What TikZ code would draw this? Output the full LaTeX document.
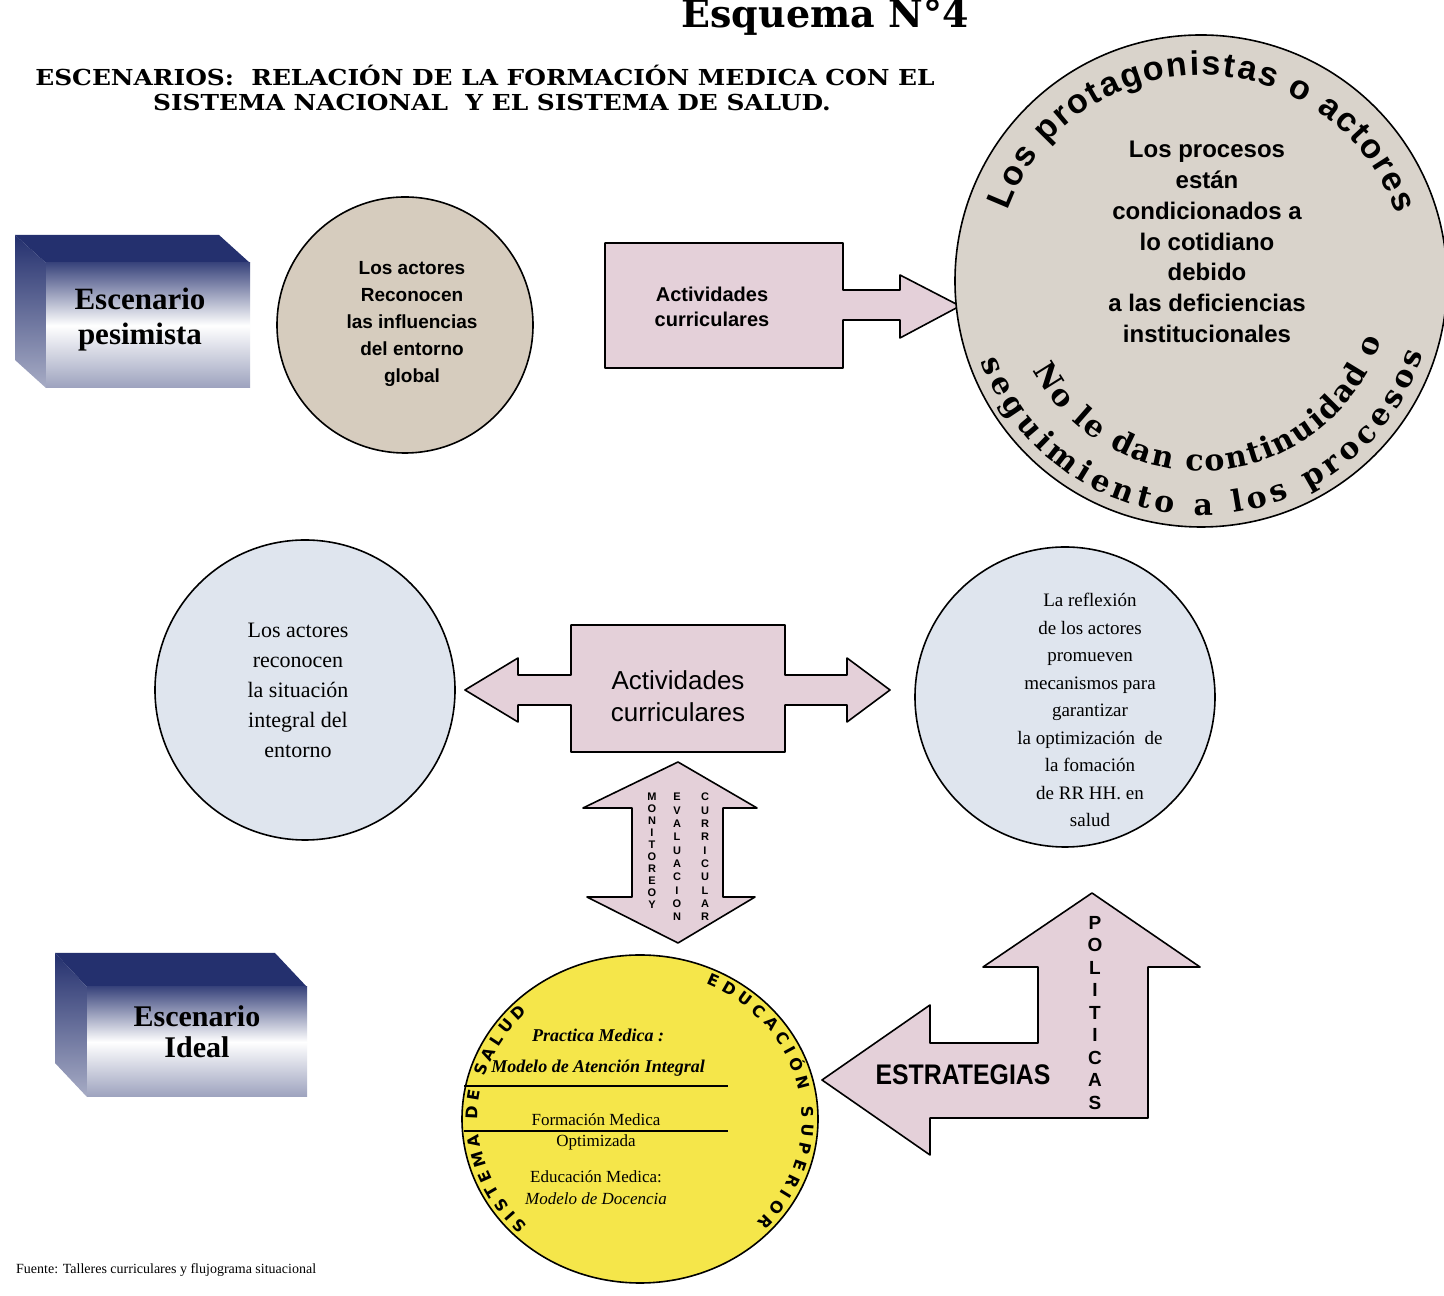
\documentclass[tikz,border=0pt]{standalone}
\usepackage{fontspec}
\setmainfont{Liberation Serif}
\newfontfamily\arialf{Liberation Sans}
\newfontfamily\dvserif{DejaVu Serif}
\newfontfamily\dvsans{DejaVu Sans}
\usetikzlibrary{decorations.text,shapes.geometric}
\definecolor{beige}{RGB}{214,204,190}
\definecolor{greyc}{RGB}{217,211,203}
\definecolor{pinkb}{RGB}{228,208,217}
\definecolor{lblue}{RGB}{223,229,238}
\definecolor{yell}{RGB}{245,230,74}
\definecolor{navy}{RGB}{36,48,110}
\newcommand{\setfs}[2]{\fontsize{#1}{#2}\selectfont}
\begin{document}
\begin{tikzpicture}[x=1pt,y=1pt,
  outl/.style={draw=black,line width=1.6pt,line join=round},
  arrowshape/.style={outl,fill=pinkb},
  bubble/.style={circle,outl,inner sep=0pt},
  txt/.style={align=center,inner sep=0pt},
  curved/.style={decorate,decoration={text along path,text align=fit to path,text={#1}}}
]
\useasboundingbox (0,0) rectangle (1444,1296);
\fill[white] (0,0) rectangle (1444,1296);

% titles
\node[anchor=base,inner sep=0pt,font=\dvserif\bfseries\setfs{38}{38}] (title) at (825,1268) {Esquema N°4};
\node[txt,font=\dvserif\bfseries\setfs{22}{22}] (sub1) at (485,1221) {\scalebox{1.13}[1]{ESCENARIOS:\ \ RELACIÓN DE LA FORMACIÓN MEDICA CON EL}};
\node[txt,font=\dvserif\bfseries\setfs{22}{22}] (sub2) at (492,1193) {\scalebox{1.13}[1]{SISTEMA NACIONAL\ \ Y EL SISTEMA DE SALUD.}};

% escenario pesimista box
\fill[navy] (46,1033) -- (15,1061) -- (219,1061) -- (250,1033) -- cycle;
\shade[top color=navy,bottom color=navy!40] (46,1033) -- (15,1061) -- (15,936) -- (46,908) -- cycle;
\shade[top color=navy!90,bottom color=navy!45,middle color=white] (46,908) rectangle (250,1033);
\node[txt,font=\bfseries\setfs{31}{35}] (esc1) at (140,976) {Escenario\\pesimista};

% escenario ideal box
\fill[navy] (87,309) -- (55,343) -- (275,343) -- (307,309) -- cycle;
\shade[top color=navy,bottom color=navy!40] (87,309) -- (55,343) -- (55,233) -- (87,199) -- cycle;
\shade[top color=navy!90,bottom color=navy!45,middle color=white] (87,199) rectangle (307,309);
\node[txt,font=\bfseries\setfs{30}{31}] (esc2) at (197,264) {Escenario\\Ideal};

% circle 1
\node[bubble,fill=beige,minimum size=256pt] (c1) at (405,971) {};
\node[txt,font=\arialf\bfseries\setfs{19}{27}] (c1t) at (412,972) {Los actores\\Reconocen\\las influencias\\del entorno\\global};

% arrow box 1
\draw[arrowshape] (605,1053) -- (843,1053) -- (843,1006) -- (900,1006) -- (900,1021) -- (960,990) -- (900,958) -- (900,976) -- (843,976) -- (843,928) -- (605,928) -- cycle;
\node[txt,font=\arialf\bfseries\setfs{20}{25}] (a1t) at (712,989) {Actividades\\curriculares};

% big circle
\node[bubble,fill=greyc,minimum size=492pt] (c2) at (1201,1015) {};
\node[txt,font=\arialf\bfseries\setfs{24}{30.8}] (c2t) at (1207,1054) {Los procesos\\están\\condicionados a\\lo cotidiano\\debido\\a las deficiencias\\institucionales};
\path[curved={|\arialf\bfseries\setfs{34}{34}|Los protagonistas o actores}] (c2.center) ++(160:206) arc[start angle=160,end angle=19,radius=206];
\path[curved={|\dvserif\bfseries\setfs{30}{30}|seguimiento a los procesos}] (c2.center) ++(200:234) arc[start angle=200,end angle=342,radius=234];
\path[curved={|\dvserif\bfseries\setfs{30}{30}|No le dan continuidad o}] (c2.center) ++(208:190) arc[start angle=208,end angle=342,radius=190];

% circle 3 and 4
\node[bubble,fill=lblue,minimum size=300pt] (c3) at (305,606) {};
\node[txt,font=\setfs{22}{30}] (c3t) at (298,606) {Los actores\\reconocen\\la situación\\integral del\\entorno};
\node[bubble,fill=lblue,minimum size=300pt] (c4) at (1065,599) {};
\node[txt,font=\setfs{19}{27.5}] (c4t) at (1090,586) {La reflexión\\de los actores\\promueven\\mecanismos para\\garantizar\\la optimización\ \ de\\la fomación\\de RR HH. en\\salud};

% double arrow box 2
\draw[arrowshape] (571,671) -- (785,671) -- (785,621) -- (847,621) -- (847,638) -- (890,606) -- (847,574) -- (847,591) -- (785,591) -- (785,544) -- (571,544) -- (571,591) -- (518,591) -- (518,574) -- (465,606) -- (518,638) -- (518,621) -- (571,621) -- cycle;
\node[txt,font=\arialf\setfs{26}{32}] (a2t) at (678,600) {Actividades\\curriculares};

% vertical double arrow
\draw[arrowshape] (678,534) -- (757,488) -- (723,488) -- (723,399) -- (755,399) -- (678,353) -- (587,399) -- (632,399) -- (632,488) -- (583,488) -- cycle;
\node[txt,font=\arialf\bfseries\setfs{11}{12}] (mon) at (652,445) {M\\O\\N\\I\\T\\O\\R\\E\\O\\Y};
\node[txt,font=\arialf\bfseries\setfs{11}{13.3}] (eva) at (677,439) {E\\V\\A\\L\\U\\A\\C\\I\\O\\N};
\node[txt,font=\arialf\bfseries\setfs{11}{13.3}] (cur) at (705,439) {C\\U\\R\\R\\I\\C\\U\\L\\A\\R};

% yellow ellipse
\node[ellipse,outl,fill=yell,minimum width=356pt,minimum height=328pt,inner sep=0pt] (c5) at (640,177) {};
\node[txt,font=\bfseries\itshape\setfs{18}{18}] (y1) at (598,261) {Practica Medica :};
\node[txt,font=\bfseries\itshape\setfs{18}{18}] (y2) at (598,228) {Modelo de Atención Integral};
\draw[line width=1.3pt] (464,210) -- (728,210);
\node[txt,font=\setfs{17}{17}] (y3) at (596,176) {Formación Medica};
\draw[line width=1.3pt] (464,165) -- (728,165);
\node[txt,font=\setfs{17}{17}] (y4) at (596,154) {Optimizada};
\node[txt,font=\setfs{17}{17}] (y5) at (596,119) {Educación Medica:};
\node[txt,font=\itshape\setfs{17}{17}] (y6) at (596,97) {Modelo de Docencia};
\path[curved={|\dvsans\bfseries\setfs{16}{16}|SISTEMA DE SALUD}] (c5.center) ++(226:162 and 148) arc[start angle=226,end angle=134,x radius=162,y radius=148];
\path[curved={|\dvsans\bfseries\setfs{16}{16}|EDUCACIÓN SUPERIOR}] (c5.center) ++(66:162 and 148) arc[start angle=66,end angle=-44,x radius=162,y radius=148];

% bent arrow
\draw[arrowshape] (822,216) -- (930,291) -- (930,253) -- (1038,253) -- (1038,329) -- (983,329) -- (1092,403) -- (1200,329) -- (1148,329) -- (1148,178) -- (930,178) -- (930,141) -- cycle;
\node[txt,font=\arialf\bfseries\setfs{27}{27}] (estr) at (963,221) {\scalebox{0.92}[1.05]{ESTRATEGIAS}};
\node[txt,font=\arialf\bfseries\setfs{19}{22.5}] (pol) at (1095,283) {P\\O\\L\\I\\T\\I\\C\\A\\S};

% footer
\node[anchor=base west,inner sep=0pt,font=\setfs{14}{14}] (foot) at (16,22) {Fuente: Talleres curriculares y flujograma situacional};
\end{tikzpicture}
\end{document}
